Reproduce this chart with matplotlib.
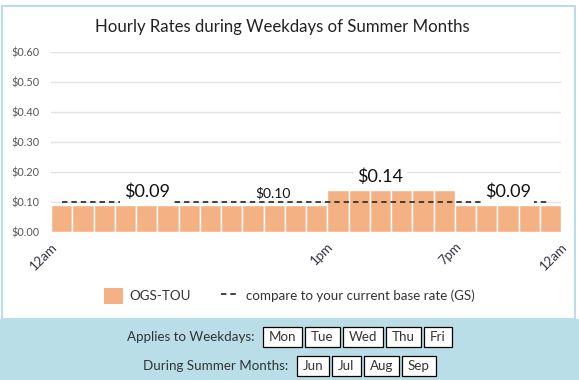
import matplotlib.pyplot as plt
from matplotlib.patches import Rectangle, Patch
from matplotlib.lines import Line2D

W, H = 579, 380

hours = [0, 1, 2, 3, 4, 5, 6, 7, 8, 9, 10, 11,
         12, 13, 14, 15, 16, 17, 18, 19, 20, 21, 22, 23]
ogs_tou = [0.09, 0.09, 0.09, 0.09, 0.09, 0.09, 0.09, 0.09, 0.09, 0.09, 0.09, 0.09,
           0.09, 0.14, 0.14, 0.14, 0.14, 0.14, 0.14, 0.09, 0.09, 0.09, 0.09, 0.09]
base_rate = 0.10

period_labels = ["$0.09", "$0.10", "$0.14", "$0.09"]
period_pos = [4.5, 10.45, 15.5, 21.5]
period_rate = [0.09, 0.09, 0.14, 0.09]
period_big = [True, False, True, True]

y_ticks = [0.0, 0.1, 0.2, 0.3, 0.4, 0.5, 0.6]
x_tick_pos = [0, 13, 19, 24]
x_tick_labels = ["12am", "1pm", "7pm", "12am"]

weekdays = ["Mon", "Tue", "Wed", "Thu", "Fri"]
months = ["Jun", "Jul", "Aug", "Sep"]

BAR = "#f4b183"
PANEL = "#b9dee8"
TXT = "#333333"

plt.rcParams['font.family'] = ['Lato', 'DejaVu Sans']


def fx(x):
    return x / W


def fy(y):
    return 1 - y / H


fig = plt.figure(figsize=(W / 100, H / 100), dpi=100)

# card border + bottom panel
fig.patches.append(Rectangle((fx(2), fy(319)), fx(573), (319 - 6) / H,
                             transform=fig.transFigure, fc="white",
                             ec=PANEL, lw=1.5, zorder=-2))
fig.patches.append(Rectangle((0, 0), 1, fy(319), transform=fig.transFigure,
                             fc=PANEL, ec="none", zorder=-1))

fig.text(fx(282), fy(27), "Hourly Rates during Weekdays of Summer Months",
         ha="center", va="center", fontsize=12.1, color="#222222")

ax = fig.add_axes([fx(51), fy(232), fx(510), 180 / H], zorder=1)
ax.set_facecolor("none")
ax.bar(hours, ogs_tou, width=1, align="edge", color=BAR,
       edgecolor="white", linewidth=1, zorder=2)
ax.plot([h + 0.5 for h in hours], [base_rate] * len(hours), color="#333333",
        lw=1.3, ls=(0, (3, 2.2)), zorder=3)

for lab, pos, rate, big in zip(period_labels, period_pos, period_rate, period_big):
    s = lab.replace("$", "\\$")
    if big:
        ax.text(pos, rate + 0.026, s, ha="center", va="baseline", fontsize=13,
                color="#111111", zorder=4,
                bbox=dict(fc="white", ec="none", pad=2.6))
    else:
        ax.text(pos, rate + 0.026, s, ha="center", va="baseline", fontsize=10,
                color="#111111", zorder=4)

ax.set_xlim(0, 24)
ax.set_ylim(0, 0.6)
ax.set_yticks(y_ticks)
ax.set_yticklabels(["\\${:.2f}".format(v) for v in y_ticks])
ax.set_xticks(x_tick_pos)
ax.set_xticklabels(x_tick_labels, rotation=45, ha="right", va="top",
                   rotation_mode="anchor")
ax.tick_params(axis="y", length=0, pad=8, labelsize=7.8, labelcolor="#555555")
ax.tick_params(axis="x", length=0, pad=6, labelsize=9.5, labelcolor="#333344")
ax.grid(axis="y", color="#e3e3e3", lw=1)
ax.set_axisbelow(True)
for sp in ax.spines.values():
    sp.set_visible(False)

handles = [Patch(fc=BAR, ec="none"),
           Line2D([], [], color="#333333", lw=1.3, ls=(0, (3, 2.2)))]
fig.legend(handles, ["OGS-TOU", "compare to your current base rate (GS)"],
           loc="center", bbox_to_anchor=(0.5, fy(296)), ncol=2, frameon=False,
           fontsize=9.6, handlelength=1.4, handleheight=1.4, columnspacing=2.2,
           handletextpad=0.5, labelcolor=TXT)

# button rows in the panel
fig.canvas.draw()
r = fig.canvas.get_renderer()


def button_row(label, items, yc, padx=6, gap=3, lgap=8, bh=20):
    lab = fig.text(0, fy(yc), label, ha="left", va="center", fontsize=9.6,
                   color=TXT)
    wl = lab.get_window_extent(r).width
    texts = [fig.text(0, fy(yc), it, ha="center", va="center", fontsize=9.6,
                      color=TXT, zorder=3) for it in items]
    ws = [t.get_window_extent(r).width + 2 * padx for t in texts]
    total = wl + lgap + sum(ws) + gap * (len(items) - 1)
    x = (W - total) / 2
    lab.set_x(fx(x))
    x += wl + lgap
    for t, w in zip(texts, ws):
        fig.patches.append(Rectangle((fx(x), fy(yc + bh / 2)), fx(w), bh / H,
                                     transform=fig.transFigure, fc="white",
                                     ec="black", lw=0.9, zorder=2))
        t.set_x(fx(x + w / 2))
        x += w + gap


button_row("Applies to Weekdays:", weekdays, 337)
button_row("During Summer Months:", months, 365.5)

fig.savefig("out.png", dpi=100)
